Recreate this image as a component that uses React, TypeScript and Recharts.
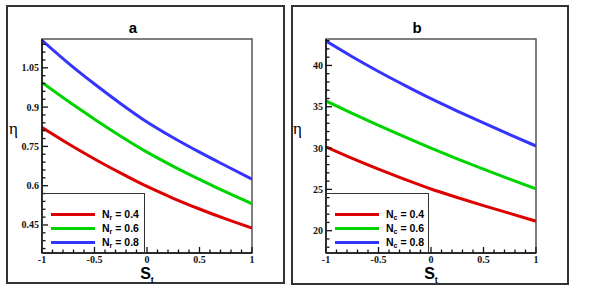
import React from "react";
import { LineChart, Line, XAxis, YAxis, ReferenceArea } from "recharts";

// shared x values (S_t)
const sT = [-1, -0.75, -0.5, -0.25, 0, 0.25, 0.5, 0.75, 1];

// panel a: eta vs S_t for N_r
const nrValues = ["0.4", "0.6", "0.8"];
const etaNr04 = [0.822, 0.76, 0.702, 0.648, 0.597, 0.552, 0.511, 0.473, 0.438];
const etaNr06 = [0.994, 0.922, 0.854, 0.789, 0.728, 0.674, 0.624, 0.576, 0.531];
const etaNr08 = [1.155, 1.068, 0.988, 0.913, 0.843, 0.783, 0.728, 0.676, 0.625];

// panel b: eta vs S_t for N_c
const ncValues = ["0.4", "0.6", "0.8"];
const etaNc04 = [30.15, 28.75, 27.45, 26.22, 25.05, 24.02, 23.04, 22.09, 21.15];
const etaNc06 = [35.7, 34.2, 32.75, 31.35, 30.0, 28.7, 27.45, 26.23, 25.05];
const etaNc08 = [42.95, 41.05, 39.27, 37.59, 35.98, 34.48, 33.04, 31.63, 30.25];

// ticks
const xMajor = [-1, -0.5, 0, 0.5, 1];
const xMinor = [-1, -0.9, -0.8, -0.7, -0.6, -0.5, -0.4, -0.3, -0.2, -0.1, 0, 0.1, 0.2, 0.3, 0.4, 0.5, 0.6, 0.7, 0.8, 0.9, 1];
const yMajorA = [0.45, 0.6, 0.75, 0.9, 1.05];
const yMinorA = [0.36, 0.39, 0.42, 0.45, 0.48, 0.51, 0.54, 0.57, 0.6, 0.63, 0.66, 0.69, 0.72, 0.75, 0.78, 0.81, 0.84, 0.87, 0.9, 0.93, 0.96, 0.99, 1.02, 1.05, 1.08, 1.11, 1.14];
const yMajorB = [20, 25, 30, 35, 40];
const yMinorB = [18, 19, 20, 21, 22, 23, 24, 25, 26, 27, 28, 29, 30, 31, 32, 33, 34, 35, 36, 37, 38, 39, 40, 41, 42, 43];

const colors = ["#dd0000", "#00d400", "#3434ff"];
const sans = "'Liberation Sans', Arial, sans-serif";
const serif = "'Liberation Serif', 'Times New Roman', serif";

function makeRows(a: number[], b: number[], c: number[]) {
  return sT.map((s, i) => ({ s, v1: a[i], v2: b[i], v3: c[i] }));
}

const XTick = (props: any) => {
  const { x, y, payload } = props;
  const major = xMajor.includes(payload.value);
  return (
    <g>
      <line x1={x} x2={x} y1={y} y2={y - (major ? 6 : 3.5)} stroke="#111" strokeWidth={1.3} />
      {major && (
        <text x={x} y={y + 10} textAnchor="middle" fontFamily={serif} fontWeight="bold" fontSize={10} fill="#111">
          {payload.value}
        </text>
      )}
    </g>
  );
};

function makeYTick(majors: number[]) {
  return (props: any) => {
    const { x, y, payload } = props;
    const major = majors.includes(payload.value);
    return (
      <g>
        <line x1={x} x2={x + (major ? 6 : 3.5)} y1={y} y2={y} stroke="#111" strokeWidth={1.3} />
        {major && (
          <text x={x - 3} y={y + 3.5} textAnchor="end" fontFamily={serif} fontWeight="bold" fontSize={10} fill="#111">
            {payload.value}
          </text>
        )}
      </g>
    );
  };
}

interface PanelProps {
  left: number;
  yAxisWidth: number;
  rows: any[];
  domain: [number, number];
  yTicks: number[];
  yMajor: number[];
  title: string;
  sub: string;
  params: string[];
}

function Panel({ left, yAxisWidth, rows, domain, yTicks, yMajor, title, sub, params }: PanelProps) {
  const plotLeft = left + yAxisWidth;
  return (
    <>
      <div style={{ position: "absolute", left, top: 0 }}>
        <LineChart width={290} height={290} data={rows} margin={{ top: 39, right: 290 - yAxisWidth - 210, bottom: 0, left: 0 }}>
          <XAxis
            dataKey="s"
            type="number"
            domain={[-1, 1]}
            allowDataOverflow
            ticks={xMinor}
            interval={0}
            height={37}
            tickSize={0}
            tickMargin={0}
            tickLine={false}
            axisLine={{ stroke: "#111", strokeWidth: 1.5 }}
            tick={XTick}
          />
          <YAxis
            type="number"
            domain={domain}
            allowDataOverflow
            ticks={yTicks}
            interval={0}
            width={yAxisWidth}
            tickSize={0}
            tickMargin={0}
            tickLine={false}
            axisLine={{ stroke: "#111", strokeWidth: 1.5 }}
            tick={makeYTick(yMajor)}
          />
          <ReferenceArea x1={-1} x2={1} y1={domain[0]} y2={domain[1]} fill="none" stroke="#555" strokeWidth={1.5} ifOverflow="visible" />
          <Line dataKey="v1" type="monotone" stroke={colors[0]} strokeWidth={3} dot={false} isAnimationActive={false} />
          <Line dataKey="v2" type="monotone" stroke={colors[1]} strokeWidth={3} dot={false} isAnimationActive={false} />
          <Line dataKey="v3" type="monotone" stroke={colors[2]} strokeWidth={3} dot={false} isAnimationActive={false} />
        </LineChart>
      </div>
      <div style={{ position: "absolute", left: plotLeft + 91 - 20, top: 19, width: 40, textAlign: "center", fontFamily: sans, fontWeight: "bold", fontSize: 15, lineHeight: "18px" }}>
        {title}
      </div>
      <div style={{ position: "absolute", left: plotLeft - 33, top: 119, fontFamily: serif, fontSize: 17, lineHeight: "20px" }}>η</div>
      <div style={{ position: "absolute", left: plotLeft + 105 - 20, top: 266, width: 40, textAlign: "center", fontFamily: sans, fontWeight: "bold", fontSize: 16, lineHeight: "15px" }}>
        S<sub style={{ fontSize: 9, verticalAlign: "-4px", lineHeight: "9px" }}>t</sub>
      </div>
      <div style={{ position: "absolute", left: plotLeft, top: 193, width: 103, height: 60, boxSizing: "border-box", border: "1.5px solid #333", borderBottom: "none" }}>
        {params.map((p, i) => (
          <div key={p} style={{ position: "absolute", left: 8, top: 13 + i * 14, height: 14, display: "flex", alignItems: "center" }}>
            <div style={{ width: 44, height: 3, background: colors[i] }} />
            <span style={{ marginLeft: 7, fontFamily: sans, fontWeight: "bold", fontSize: 10.5, whiteSpace: "nowrap" }}>
              N<sub style={{ fontSize: 7, verticalAlign: "-2px" }}>{sub}</sub> = {p}
            </span>
          </div>
        ))}
      </div>
    </>
  );
}

export default function App() {
  return (
    <div style={{ position: "absolute", left: 0, top: 0, width: 589, height: 290, background: "#fff", overflow: "hidden" }}>
      <div style={{ position: "absolute", left: 6, top: 5, width: 279, height: 279, boxSizing: "border-box", border: "2px solid #333" }} />
      <div style={{ position: "absolute", left: 291, top: 5, width: 278, height: 280, boxSizing: "border-box", border: "2px solid #333" }} />
      <Panel
        left={0}
        yAxisWidth={42}
        rows={makeRows(etaNr04, etaNr06, etaNr08)}
        domain={[0.343, 1.16]}
        yTicks={yMinorA}
        yMajor={yMajorA}
        title="a"
        sub="r"
        params={nrValues}
      />
      <Panel
        left={290}
        yAxisWidth={36}
        rows={makeRows(etaNc04, etaNc06, etaNc08)}
        domain={[17.3, 43.2]}
        yTicks={yMinorB}
        yMajor={yMajorB}
        title="b"
        sub="c"
        params={ncValues}
      />
    </div>
  );
}
